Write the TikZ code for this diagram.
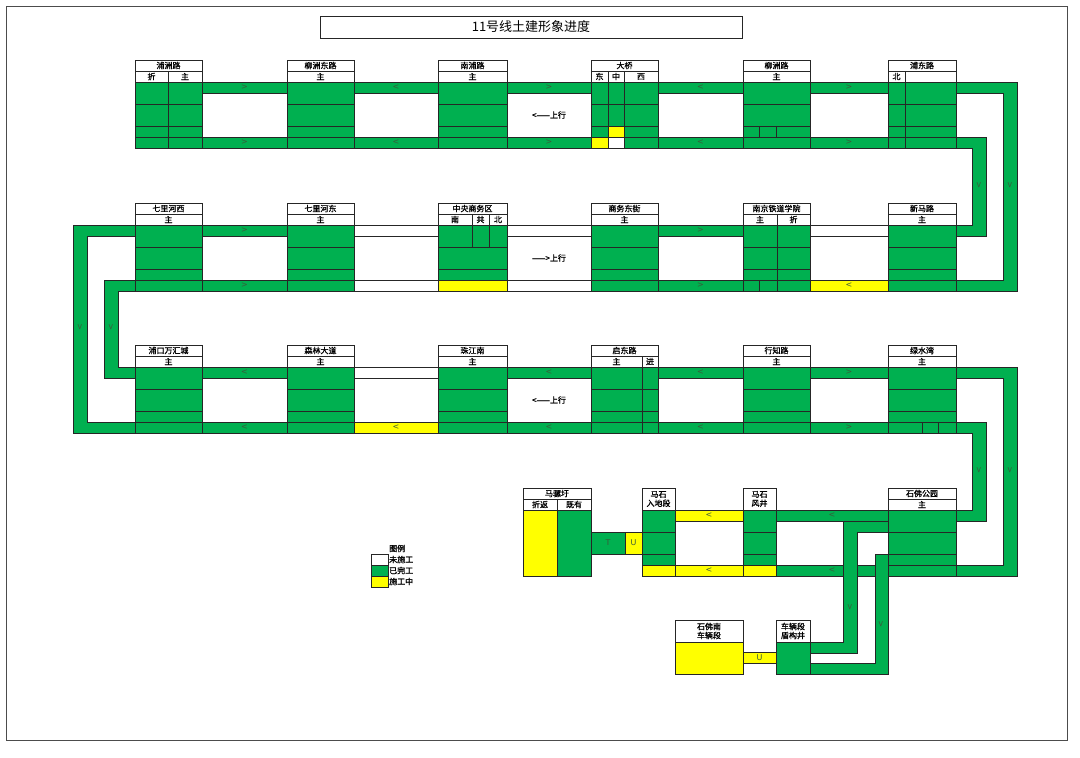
\documentclass[tikz,border=0pt]{standalone}
\usepackage{fontspec}
\setmainfont{Noto Sans CJK SC}
\newfontfamily\cjkb{Noto Sans CJK SC}[FakeBold=1.2]
\newfontfamily\arrf{DejaVu Sans}
\definecolor{grn}{HTML}{00B050}
\definecolor{ylw}{HTML}{FFFF00}
\definecolor{arc}{HTML}{3A5A3A}
\newcounter{nd}
\tikzset{
  ln/.style={draw=black!85,line width=0.55pt},
  gr/.style={ln,fill=grn},
  yl/.style={ln,fill=ylw},
  wt/.style={ln,fill=white},
  lab/.style={font=\cjkb\fontsize{8}{9}\selectfont,inner sep=0pt,align=center},
  arr/.style={font=\arrf\fontsize{8}{8}\selectfont,text=arc,inner sep=0pt},
  dir/.style={font=\cjkb\fontsize{8}{9}\selectfont,inner sep=0pt},
}
% band between stations: x1 x2 ytop style arrow
\newcommand\band[5]{\draw[#4] (#1,#3) rectangle (#2,#3+11);
  \stepcounter{nd}\node[arr] (b\arabic{nd}) at ({(#1+#2)/2},#3+5.5) {#5};}
% station body: x1 x2 T
\newcommand\stbody[3]{\draw[gr] (#1,#3) rectangle (#2,#3+66);
  \draw[ln] (#1,#3+22) -- (#2,#3+22) (#1,#3+44) -- (#2,#3+44) (#1,#3+55) -- (#2,#3+55);}
% station header: x1 x2 T label
\newcommand\sthead[4]{\draw[wt] (#1,#3-22) rectangle (#2,#3-11) (#1,#3-11) rectangle (#2,#3);
  \stepcounter{nd}\node[lab] (h\arabic{nd}) at ({(#1+#2)/2},#3-16.5) {#4};}
% sub label: x T text
\newcommand\subl[3]{\stepcounter{nd}\node[lab] (s\arabic{nd}) at (#1,#2-5.5) {#3};}
% vertical arrow
\newcommand\varr[2]{\stepcounter{nd}\node[arr,rotate=90] (v\arabic{nd}) at (#1,#2) {<};}
\begin{document}
\begin{tikzpicture}[x=1pt,y=-1pt]
\useasboundingbox (0,0) rectangle (1080,758);
\draw[black!70,line width=0.6pt] (6,6) rectangle (1067,740);
\draw[ln] (320,16) rectangle (742,38);
\node[font=\fontsize{13}{14}\selectfont,inner sep=0pt] (title) at (531,27) {11号线土建形象进度};

% ---------- row 1 bands ----------
\band{202}{287}{82}{gr}{>}\band{354}{438}{82}{gr}{<}\band{507}{591}{82}{gr}{>}\band{658}{743}{82}{gr}{<}\band{810}{888}{82}{gr}{>}
\band{202}{287}{137}{gr}{>}\band{354}{438}{137}{gr}{<}\band{507}{591}{137}{gr}{>}\band{658}{743}{137}{gr}{<}\band{810}{888}{137}{gr}{>}
% ---------- row 2 bands ----------
\band{202}{287}{225}{gr}{>}\band{354}{438}{225}{wt}{}\band{507}{591}{225}{wt}{}\band{658}{743}{225}{gr}{>}\band{810}{888}{225}{wt}{}
\band{202}{287}{280}{gr}{>}\band{354}{438}{280}{wt}{}\band{507}{591}{280}{wt}{}\band{658}{743}{280}{gr}{>}\band{810}{888}{280}{yl}{<}
% ---------- row 3 bands ----------
\band{202}{287}{367}{gr}{<}\band{354}{438}{367}{wt}{}\band{507}{591}{367}{gr}{<}\band{658}{743}{367}{gr}{<}\band{810}{888}{367}{gr}{>}
\band{202}{287}{422}{gr}{<}\band{354}{438}{422}{yl}{<}\band{507}{591}{422}{gr}{<}\band{658}{743}{422}{gr}{<}\band{810}{888}{422}{gr}{>}
% ---------- row 4 bands ----------
\band{675}{743}{510}{yl}{<}\band{776}{888}{510}{gr}{<}
\band{675}{743}{565}{yl}{<}\band{776}{888}{565}{gr}{<}

% ---------- loops ----------
\draw[gr] (956,82) -- (1017,82) -- (1017,291) -- (956,291) -- (956,280) -- (1003,280) -- (1003,93) -- (956,93) -- cycle;
\draw[gr] (956,137) -- (986,137) -- (986,236) -- (956,236) -- (956,225) -- (972,225) -- (972,148) -- (956,148) -- cycle;
\draw[gr] (135,225) -- (73,225) -- (73,433) -- (135,433) -- (135,422) -- (87,422) -- (87,236) -- (135,236) -- cycle;
\draw[gr] (135,280) -- (104,280) -- (104,378) -- (135,378) -- (135,367) -- (118,367) -- (118,291) -- (135,291) -- cycle;
\draw[gr] (956,367) -- (1017,367) -- (1017,576) -- (956,576) -- (956,565) -- (1003,565) -- (1003,378) -- (956,378) -- cycle;
\draw[gr] (956,422) -- (986,422) -- (986,521) -- (956,521) -- (956,510) -- (972,510) -- (972,433) -- (956,433) -- cycle;
\draw[gr] (888,521) -- (843,521) -- (843,642) -- (810,642) -- (810,653) -- (857,653) -- (857,532) -- (888,532) -- cycle;
\draw[gr] (888,554) -- (875,554) -- (875,663) -- (810,663) -- (810,674) -- (888,674) -- cycle;
\varr{979}{185}\varr{1010}{185}\varr{80}{327}\varr{111}{327}\varr{979}{470}\varr{1010}{470}\varr{850}{607}\varr{881}{624}

% ---------- row 1 stations (T=82) ----------
\stbody{135}{202}{82}\stbody{287}{354}{82}\stbody{438}{507}{82}\stbody{591}{658}{82}\stbody{743}{810}{82}\stbody{888}{956}{82}
\sthead{135}{202}{82}{浦洲路}\sthead{287}{354}{82}{柳洲东路}\sthead{438}{507}{82}{南浦路}\sthead{591}{658}{82}{大桥}\sthead{743}{810}{82}{柳洲路}\sthead{888}{956}{82}{浦东路}
\draw[ln] (168,71) -- (168,148);
\subl{151.5}{82}{折}\subl{185}{82}{主}\subl{320.5}{82}{主}\subl{472.5}{82}{主}
\draw[yl] (608,126) rectangle (624,137);
\draw[yl] (591,137) rectangle (608,148);
\draw[wt] (608,137) rectangle (624,148);
\draw[ln] (608,71) -- (608,148) (624,71) -- (624,148);
\subl{599.5}{82}{东}\subl{616}{82}{中}\subl{641}{82}{西}
\draw[ln] (759,126) -- (759,137) (776,126) -- (776,137);
\subl{776.5}{82}{主}
\draw[ln] (905,71) -- (905,148);
\subl{896.5}{82}{北}
\node[dir] (up1) at (549,115) {<——上行};

% ---------- row 2 stations (T=225) ----------
\stbody{135}{202}{225}\stbody{287}{354}{225}\stbody{438}{507}{225}\stbody{591}{658}{225}\stbody{743}{810}{225}\stbody{888}{956}{225}
\sthead{135}{202}{225}{七里河西}\sthead{287}{354}{225}{七里河东}\sthead{438}{507}{225}{中央商务区}\sthead{591}{658}{225}{商务东街}\sthead{743}{810}{225}{南京铁道学院}\sthead{888}{956}{225}{新马路}
\subl{168.5}{225}{主}\subl{320.5}{225}{主}
\draw[yl] (438,280) rectangle (507,291);
\draw[ln] (472,214) -- (472,247) (489,214) -- (489,247);
\subl{455}{225}{南}\subl{480.5}{225}{共}\subl{498}{225}{北}
\subl{624.5}{225}{主}
\draw[ln] (777,214) -- (777,291) (759,280) -- (759,291);
\subl{760}{225}{主}\subl{793.5}{225}{折}
\subl{922}{225}{主}
\node[dir] (up2) at (549,258) {——>上行};

% ---------- row 3 stations (T=367) ----------
\stbody{135}{202}{367}\stbody{287}{354}{367}\stbody{438}{507}{367}\stbody{591}{658}{367}\stbody{743}{810}{367}\stbody{888}{956}{367}
\sthead{135}{202}{367}{浦口万汇城}\sthead{287}{354}{367}{森林大道}\sthead{438}{507}{367}{珠江南}\sthead{591}{658}{367}{启东路}\sthead{743}{810}{367}{行知路}\sthead{888}{956}{367}{绿水湾}
\subl{168.5}{367}{主}\subl{320.5}{367}{主}\subl{472.5}{367}{主}
\draw[ln] (642,356) -- (642,433);
\subl{616.5}{367}{主}\subl{650}{367}{进}
\subl{776.5}{367}{主}\subl{922}{367}{主}
\draw[ln] (922,422) -- (922,433) (938,422) -- (938,433);
\node[dir] (up3) at (549,400) {<——上行};

% ---------- row 4 (T=510) ----------
\stbody{888}{956}{510}
\sthead{888}{956}{510}{石佛公园}\subl{922}{510}{主}
\stbody{642}{675}{510}\draw[yl] (642,565) rectangle (675,576);
\draw[wt] (642,488) rectangle (675,510);
\node[lab] (msr) at (658.5,499) {马石\\入地段};
\stbody{743}{776}{510}\draw[yl] (743,565) rectangle (776,576);
\draw[wt] (743,488) rectangle (776,510);
\node[lab] (msf) at (759.5,499) {马石\\风井};
% 马骡圩
\draw[wt] (523,488) rectangle (591,499) (523,499) rectangle (591,510);
\node[lab] (mlw) at (557,493.5) {马骡圩};
\draw[ln] (557,499) -- (557,510);
\subl{540}{510}{折返}\subl{574}{510}{既有}
\draw[yl] (523,510) rectangle (557,576);
\draw[gr] (557,510) rectangle (591,576);
\draw[gr] (591,532) rectangle (625,554);
\node[arr] (tT) at (608,543) {T};
\draw[yl] (625,532) rectangle (642,554);
\node[arr] (tU) at (633.5,543) {U};
% depot
\draw[wt] (675,620) rectangle (743,642);
\node[lab] (sfn) at (709,631) {石佛南\\车辆段};
\draw[yl] (675,642) rectangle (743,674);
\draw[yl] (743,652) rectangle (776,663);
\node[arr] (dU) at (759.5,657.5) {U};
\draw[wt] (776,620) rectangle (810,642);
\node[lab] (dgj) at (793,631) {车辆段\\盾构井};
\draw[gr] (776,642) rectangle (810,674);

% ---------- legend ----------
\node[lab,anchor=west] (lg) at (389,548.5) {图例};
\draw[wt] (371,554) rectangle (388,565);
\draw[gr] (371,565) rectangle (388,576);
\draw[yl] (371,576) rectangle (388,587);
\node[lab,anchor=west] (lg1) at (389,559.5) {未施工};
\node[lab,anchor=west] (lg2) at (389,570.5) {已完工};
\node[lab,anchor=west] (lg3) at (389,581.5) {施工中};
\end{tikzpicture}
\end{document}
